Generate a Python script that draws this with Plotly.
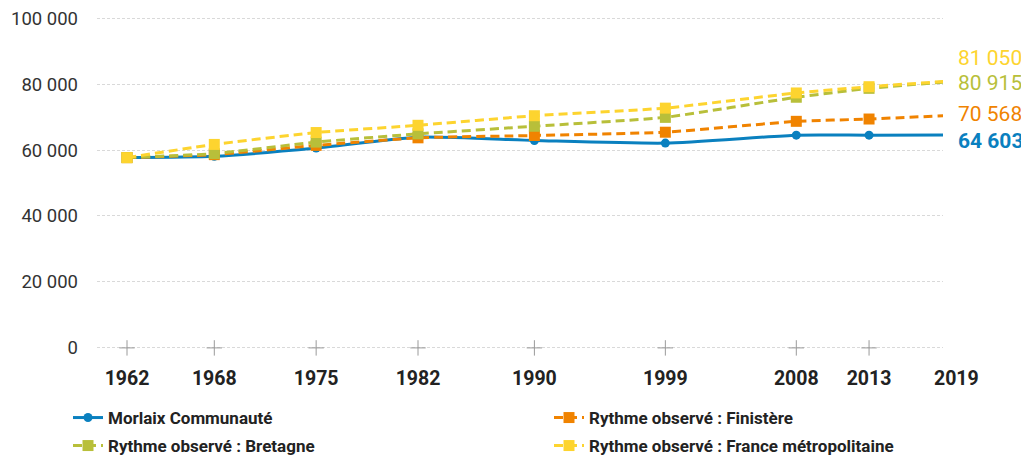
import plotly.graph_objects as go

years = [1962, 1968, 1975, 1982, 1990, 1999, 2008, 2013, 2019]
year_labels = ["1962", "1968", "1975", "1982", "1990", "1999", "2008", "2013", "2019"]
morlaix = [57700, 58100, 60600, 63900, 62900, 62100, 64500, 64500, 64603]
finistere = [57700, 58600, 61400, 63700, 64400, 65400, 68700, 69400, 70568]
bretagne = [57700, 58900, 62400, 64900, 67200, 69900, 76000, 78700, 80915]
france = [57700, 61700, 65300, 67500, 70400, 72700, 77300, 79200, 81050]
y_ticks = [0, 20000, 40000, 60000, 80000, 100000]

names = ["Morlaix Communauté", "Rythme observé : Finistère",
         "Rythme observé : Bretagne", "Rythme observé : France métropolitaine"]
series = [morlaix, finistere, bretagne, france]
colors = ["#0a80bf", "#f08300", "#b8bf3a", "#fdd42f"]
legend_ids = ["legend", "legend", "legend2", "legend2"]

# page has an 8px body margin; figure coordinates = page coordinates - 8
W, H = 1021, 454
ML, MR, MT, MB = 89, 4, 8, 112
plot_w_px = 935 - ML
paper_w = W - ML - MR
plot_h_px = H - MT - MB
px_per_year = 14.55
x_lo = 1962 - 30 / px_per_year
x_hi_main = x_lo + plot_w_px / px_per_year
x_hi_full = x_lo + paper_w / px_per_year
units_per_px = 100000 / 329.8
y_pad = (plot_h_px * units_per_px - 100000) / 2

fig = go.Figure()

# "+" tick marks on the zero line
plus_x = [y for y in years if y <= x_hi_main]
fig.add_trace(go.Scatter(
    x=plus_x, y=[0] * len(plus_x), mode="markers",
    marker=dict(symbol="cross-thin", size=11, line=dict(color="#9a9a9a", width=1)),
    showlegend=False, hoverinfo="skip", cliponaxis=False))

for i, (nm, vals, col, lg) in enumerate(zip(names, series, colors, legend_ids)):
    if i == 0:
        fig.add_trace(go.Scatter(
            x=years, y=vals, name=nm, mode="lines+markers", legend=lg,
            line=dict(color=col, width=3, shape="spline", smoothing=0.6),
            marker=dict(symbol="circle", size=9, color=col)))
    else:
        fig.add_trace(go.Scatter(
            x=years, y=vals, name=nm, mode="lines+markers", legend=lg,
            line=dict(color=col, width=3, dash="9px,5px", shape="spline", smoothing=0.4),
            marker=dict(symbol="square", size=11, color=col)))

# dummy trace carrying the full-width tick-label axis
fig.add_trace(go.Scatter(x=years, y=[None] * len(years), xaxis="x2", yaxis="y2",
                         showlegend=False, hoverinfo="skip", mode="markers"))

def fmt(v):
    return f"{v:,}".replace(",", " ")

label_shift = [-6, 1, -2, 23]
label_bold = [True, False, False, False]
for vals, col, sh, b in zip(series, colors, label_shift, label_bold):
    fig.add_annotation(
        x=years[-1], y=vals[-1], xref="x2", yref="y", text=fmt(vals[-1]),
        showarrow=False, xanchor="left", yanchor="middle", xshift=0, yshift=sh,
        font=dict(family="Roboto", size=21, color=col, weight="bold" if b else "normal"))

legend_common = dict(orientation="h", x=(60 - ML) / paper_w, xanchor="left",
                     yanchor="top", entrywidth=436, entrywidthmode="pixels",
                     font=dict(family="Roboto", size=17, color="#222222", weight="bold"),
                     bgcolor="rgba(0,0,0,0)")

fig.update_layout(
    width=W, height=H,
    margin=dict(l=ML, r=MR, t=MT, b=MB, autoexpand=False),
    paper_bgcolor="white", plot_bgcolor="rgba(0,0,0,0)",
    separators=", ",
    font=dict(family="Roboto", color="#333333"),
    xaxis=dict(domain=[0, plot_w_px / paper_w], range=[x_lo, x_hi_main],
               showgrid=False, zeroline=False, showline=False,
               showticklabels=False, ticks="", anchor="y"),
    yaxis=dict(domain=[0, 1], range=[-y_pad, 100000 + y_pad], tickvals=y_ticks,
               tickformat=",d", ticklabeloverflow="allow",
               showgrid=True, gridcolor="#d9d9d9", griddash="3px,2px", gridwidth=1,
               zeroline=False, showline=False, ticks="", ticklabelstandoff=18,
               tickfont=dict(family="Roboto", size=18.5, color="#333333"), anchor="x"),
    xaxis2=dict(domain=[0, 1], range=[x_lo, x_hi_full], anchor="y2",
                tickvals=years, ticktext=year_labels,
                showgrid=False, zeroline=False, showline=False, ticks="",
                ticklabelstandoff=14,
                tickfont=dict(family="Roboto", size=19.5,
                              color="#222222", weight="bold")),
    yaxis2=dict(domain=[0, 1], range=[0, 1], visible=False, anchor="x2"),
    legend=dict(y=-50 / plot_h_px, **legend_common),
    legend2=dict(y=-78 / plot_h_px, **legend_common),
    showlegend=True,
)

fig.write_html("out.html")
